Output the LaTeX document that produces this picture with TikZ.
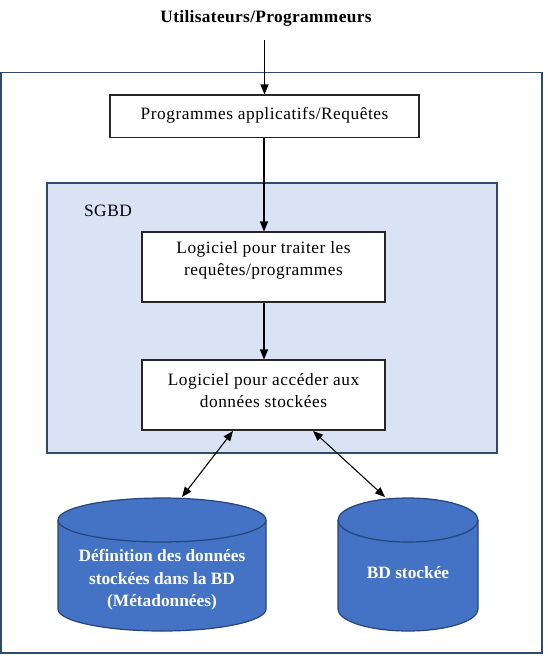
\documentclass[tikz,border=0pt]{standalone}
\usepackage{fontspec}
\setmainfont{Liberation Serif}[LetterSpace=3]
\newfontfamily\cylfont{Liberation Serif}
\newfontfamily\titlefont{Liberation Serif}[LetterSpace=2]
\usetikzlibrary{arrows.meta,fit}
\definecolor{navy}{HTML}{2F4A6B}
\definecolor{sgbdfill}{HTML}{DAE3F3}
\definecolor{cylfill}{HTML}{4472C4}
\definecolor{cylline}{HTML}{26457A}
\tikzset{
  every node/.style={font=\fontsize{13}{16.5}\selectfont},
  whitebox/.style={draw=black!85, fill=white, line width=0.8pt, inner sep=0pt, align=center},
  arr/.style={-{Triangle[length=7.5pt,width=6pt]}, line width=0.8pt},
  darr/.style={{Triangle[length=7.5pt,width=6pt]}-{Triangle[length=7.5pt,width=6pt]}, line width=0.8pt},
  cyl/.style={fill=cylfill, draw=cylline, line width=0.9pt},
  cyltext/.style={text=white, font=\cylfont\fontsize{13}{17}\selectfont\bfseries, align=center}
}
\begin{document}
\begin{tikzpicture}[x=0.75pt,y=-0.75pt]
\useasboundingbox (0,0) rectangle (548,658);
% outer frame
\node[draw=navy, line width=1pt, inner sep=0pt, fit={(1,72.7) (542,653)}] (outer) {};
% title
\node[font=\titlefont\fontsize{13}{16}\selectfont\bfseries] (title) at (266,18) {Utilisateurs/Programmeurs};
% programmes box
\node[whitebox, fit={(110,95) (419,137.7)}] (prog) {};
\node (progtext) at (264.5,115.5) {Programmes applicatifs/Requêtes};
% SGBD
\node[draw=navy, fill=sgbdfill, line width=1pt, inner sep=0pt, fit={(47,183) (497,453)}] (sgbd) {};
\node (sgbdlabel) at (108,211) {SGBD};
% box 1
\node[whitebox, fit={(142,232) (385,302)}] (b1) {};
\node[align=center] (b1text) at (263.5,260) {Logiciel pour traiter les\\requêtes/programmes};
% box 2
\node[whitebox, fit={(142,360) (385,430)}] (b2) {};
\node[align=center] (b2text) at (263.5,391) {Logiciel pour accéder aux\\données stockées};
% cylinder 1
\fill[cylfill] (58,520) -- (58,609) arc[start angle=180,end angle=0,x radius=104,y radius=22] -- (266,520) -- cycle;
\draw[cylline, line width=0.9pt] (58,520) -- (58,609) arc[start angle=180,end angle=0,x radius=104,y radius=22] -- (266,520);
\draw[cyl] (162,520) ellipse [x radius=104, y radius=22];
\node[cyltext] (c1text) at (162,580) {Définition des données\\stockées dans la BD\\(Métadonnées)};
\coordinate (c1top) at (182,497);
% cylinder 2
\fill[cylfill] (338,520) -- (338,609) arc[start angle=180,end angle=0,x radius=70,y radius=22] -- (478,520) -- cycle;
\draw[cylline, line width=0.9pt] (338,520) -- (338,609) arc[start angle=180,end angle=0,x radius=70,y radius=22] -- (478,520);
\draw[cyl] (408,520) ellipse [x radius=70, y radius=22];
\node[cyltext] (c2text) at (408,573) {BD stockée};
\coordinate (c2top) at (385,497);
% connectors
\coordinate (b2a) at (233,431);
\coordinate (b2b) at (313,431);
\draw[arr] (title.south -| prog.north) ++(0,9) -- (prog.north);
\draw[arr] (prog.south -| 264,0) -- (b1.north -| 264,0);
\draw[arr] (b1.south -| 264,0) -- (b2.north -| 264,0);
\draw[darr] (b2a) -- (c1top);
\draw[darr] (b2b) -- (c2top);
\end{tikzpicture}
\end{document}
